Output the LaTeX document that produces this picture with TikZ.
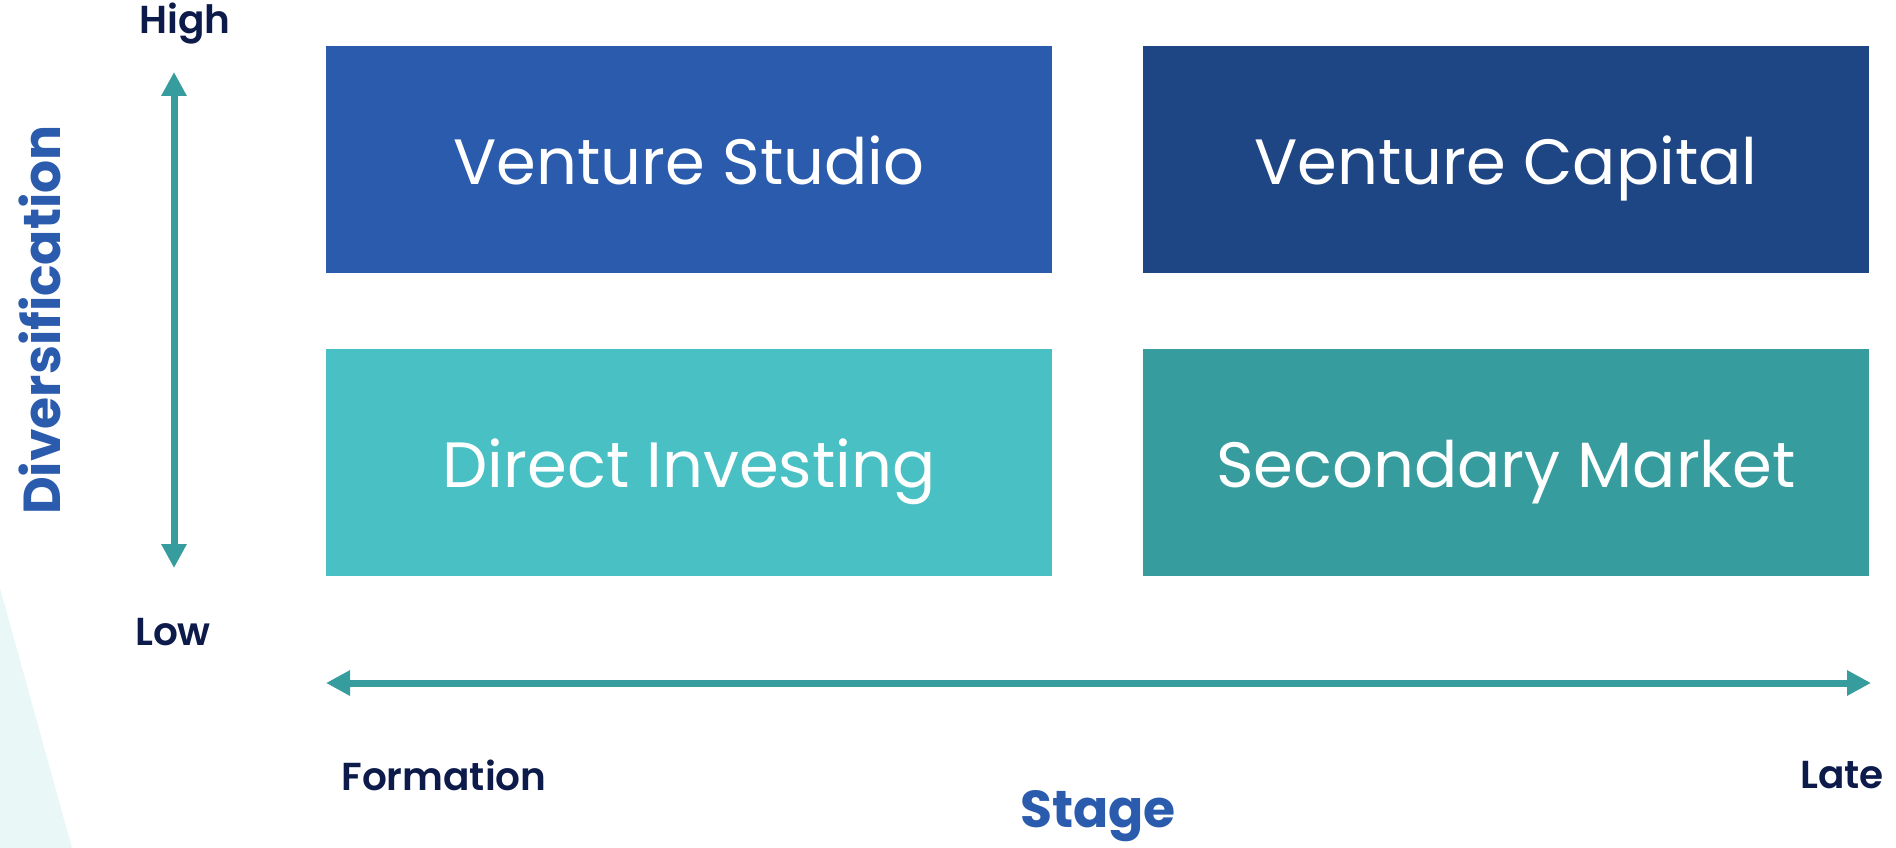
\documentclass[tikz,border=0pt]{standalone}
\usepackage{fontspec}
\setmainfont{Poppins}
\newfontfamily\popreg{Poppins}
\newfontfamily\popbold{Poppins SemiBold}
\newfontfamily\popxbold{Poppins Bold}
\usetikzlibrary{arrows.meta}
\definecolor{vstudio}{HTML}{2A5BAD}
\definecolor{vcap}{HTML}{1E4584}
\definecolor{direct}{HTML}{48C0C4}
\definecolor{second}{HTML}{369C9E}
\definecolor{arrowc}{HTML}{369C9E}
\definecolor{navy}{HTML}{0D1B4B}
\definecolor{axisblue}{HTML}{2A5BAD}
\definecolor{faint}{HTML}{EAF7F7}
\begin{document}
\begin{tikzpicture}[x=1pt,y=-1pt,
  quad/.style={minimum width=726pt,minimum height=227pt,inner sep=0pt,text height=49pt,text depth=0pt,text=white,font=\popreg\fontsize{64}{72}\selectfont},
  axlabel/.style={text=navy,font=\popbold\fontsize{39}{45}\selectfont,inner sep=0pt},
  axtitle/.style={text=axisblue,font=\popxbold\fontsize{52}{60}\selectfont,inner sep=0pt},
  axarrow/.style={draw=arrowc,line width=7pt,{Triangle[length=24pt,width=24pt]}-{Triangle[length=24pt,width=24pt]}}]
\useasboundingbox (0,0) rectangle (1896,848);
\fill[faint] (0,588) -- (72,848) -- (0,848) -- cycle;
\node[quad,fill=vstudio] (vs) at (689,159.5) {Venture Studio};
\node[quad,fill=vcap] (vc) at (1506,159.5) {Venture Capital};
\node[quad,fill=direct] (di) at (689,462.5) {Direct Investing};
\node[quad,fill=second] (sm) at (1506,462.5) {Secondary Market};
\coordinate (vtop) at (174,72);
\coordinate (vbot) at (174,568);
\coordinate (hleft) at (326,683);
\coordinate (hright) at (1871,683);
\draw[axarrow] (vtop) -- (vbot);
\draw[axarrow] (hleft) -- (hright);
\node[axlabel] (high) at (185,24) {High};
\node[axlabel] (low) at (173,632) {Low};
\node[axlabel] (form) at (444,775) {Formation};
\node[axlabel] (late) at (1842,775) {Late};
\node[axtitle] (stage) at (1098,816) {Stage};
\node[axtitle,rotate=90] (div) at (40,320) {Diversification};
\end{tikzpicture}
\end{document}
